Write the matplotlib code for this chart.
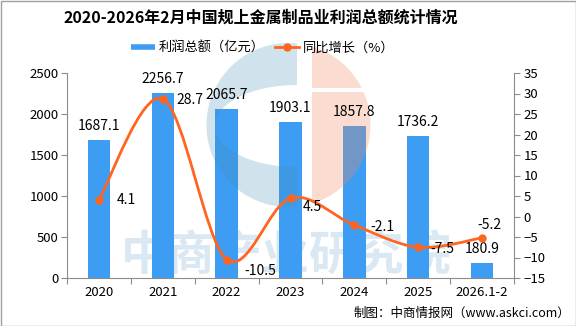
import numpy as np
import matplotlib
matplotlib.use('Agg')
import matplotlib.pyplot as plt
from matplotlib.path import Path
from matplotlib.patches import PathPatch, Polygon, Rectangle, Circle
from matplotlib.lines import Line2D
from matplotlib.transforms import Affine2D

plt.rcParams['font.family'] = ['Noto Sans CJK SC', 'DejaVu Sans']

# ---- data ----
years = ['2020', '2021', '2022', '2023', '2024', '2025', '2026.1-2']
profit = [1687.1, 2256.7, 2065.7, 1903.1, 1857.8, 1736.2, 180.9]   # 亿元
growth = [4.1, 28.7, -10.5, 4.5, -2.1, -7.5, -5.2]                 # %
left_ticks = [0, 500, 1000, 1500, 2000, 2500]
right_ticks = [-15, -10, -5, 0, 5, 10, 15, 20, 25, 30, 35]

title = '2020-2026年2月中国规上金属制品业利润总额统计情况'
bar_name = '利润总额（亿元）'
line_name = '同比增长（%）'
source = '制图：中商情报网（www.askci.com）'
watermark = '中商产业研究院'

# label offsets (points) for the growth labels
growth_offsets = [(13, 0), (10, -1), (12.5, -8.5), (8.6, -6.5),
                  (11.5, -1.5), (9, -1), (-3.6, 9)]

W, H = 576, 326
BAR = '#3D9DF2'
LINE = '#FF6420'
GRAY = '#8c8c8c'

fig = plt.figure(figsize=(W / 100, H / 100), dpi=100)
# pixel coordinates (origin top-left) -> display
PX = Affine2D().scale(1 / W, -1 / H).translate(0, 1) + fig.transFigure

ax = fig.add_axes([67 / W, 1 - 278 / H, (514 - 67) / W, (278 - 73) / H])
ax.patch.set_alpha(0)
ax2 = ax.twinx()

x = np.arange(len(years))

# watermark text behind the bars
ax.text(286, 255, watermark, transform=PX, ha='center', va='center',
        fontsize=34, fontweight='bold', color='#d9e8f2', zorder=0.5)

ax.bar(x, profit, width=0.35, color=BAR, zorder=2)

# logo watermark drawn over the bars
cx, cy, r = 288.5, 125, 82
split_l, split_r = 297, 312
t0 = np.degrees(np.arccos((split_l - cx) / r))
th = np.radians(np.linspace(t0, 360 - t0, 120))
outer = np.column_stack([cx + r * np.cos(th), cy - r * np.sin(th)])
ecx, ecy, ea, eb = 297, 126, 82, 41
ph = np.radians(np.linspace(270, 90, 100))
inner = np.column_stack([ecx + ea * np.cos(ph), ecy - eb * np.sin(ph)])
blue_poly = Polygon(np.vstack([outer, inner]), closed=True, transform=PX,
                    facecolor='#468cb4', alpha=0.25, edgecolor='none',
                    zorder=2.5, clip_on=False)
ax.add_patch(blue_poly)
for (y0, y1) in [(0, 88), (92, 326)]:
    c = Circle((cx, cy), r, transform=PX, facecolor='#f08c64', alpha=0.3,
               edgecolor='none', zorder=2.5)
    ax.add_patch(c)
    c.set_clip_path(Rectangle((split_r, y0), 200, y1 - y0, transform=PX))

# bar value labels
for xi, v in zip(x, profit):
    ax.annotate(f'{v:.1f}', (xi, v), xytext=(0, 10), textcoords='offset points',
                ha='center', va='center', fontsize=10, zorder=5)

ax.set_xlim(-0.5, len(years) - 0.5)
ax.set_ylim(0, 2500)
ax.set_yticks(left_ticks)
ax.set_xticks(np.arange(-0.5, len(years)), labels=[''] * (len(years) + 1))
ax.set_xticks(x, labels=years, minor=True)
ax.tick_params(axis='x', which='minor', length=0, pad=6, labelsize=9.5)
ax.tick_params(axis='x', which='major', length=4, color=GRAY)
ax.tick_params(axis='y', length=4, color=GRAY, labelsize=9.5, pad=2)

# smooth growth line (cubic Bezier through the points)
pts = np.column_stack([x, growth]).astype(float)
n = len(pts)
verts, codes = [pts[0]], [Path.MOVETO]
for i in range(n - 1):
    p0 = pts[i - 1] if i > 0 else pts[i]
    p1, p2 = pts[i], pts[i + 1]
    p3 = pts[i + 2] if i + 2 < n else pts[i + 1]
    verts += [p1 + (p2 - p0) / 6, p2 - (p3 - p1) / 6, p2]
    codes += [Path.CURVE4] * 3
ax2.add_patch(PathPatch(Path(verts, codes), facecolor='none', edgecolor=LINE,
                        lw=2, zorder=3, capstyle='round'))
ax2.plot(x, growth, 'o', ms=5, color=LINE, zorder=4)
for xi, v, (dx, dy) in zip(x, growth, growth_offsets):
    ax2.annotate(f'{v}', (xi, v), xytext=(dx, dy), textcoords='offset points',
                 ha='left', va='center', fontsize=10, zorder=5)

ax2.set_ylim(-15, 35)
ax2.set_yticks(right_ticks)
ax2.tick_params(axis='y', length=4, color=GRAY, labelsize=9.5, pad=3)

for a in (ax, ax2):
    a.spines['top'].set_visible(False)
    for s in a.spines.values():
        s.set_color(GRAY)
ax.spines['right'].set_visible(False)
ax2.spines['left'].set_visible(False)
ax2.spines['bottom'].set_visible(False)

# title, legend, source
fig.text(261 / W, 1 - 18 / H, title, ha='center', va='center',
         fontsize=11.5, fontweight='bold')
handles = [Line2D([], [], color=BAR, lw=4, solid_capstyle='butt'),
           Line2D([], [], color=LINE, lw=2, marker='o', ms=5)]
fig.legend(handles, [bar_name, line_name], loc='center',
           bbox_to_anchor=(263 / W, 1 - 48 / H), ncol=2, frameon=False,
           fontsize=9.5, handlelength=1.8, handletextpad=0.3,
           columnspacing=0.8, borderpad=0)
fig.text(570 / W, 1 - 313 / H, source, ha='right', va='center', fontsize=9)

fig.add_artist(Rectangle((0.5 / W, 0.5 / H), (W - 1) / W, (H - 1) / H,
                         transform=fig.transFigure, fill=False,
                         edgecolor='#a0a0a0', lw=1))

fig.savefig('out.png', dpi=100)
